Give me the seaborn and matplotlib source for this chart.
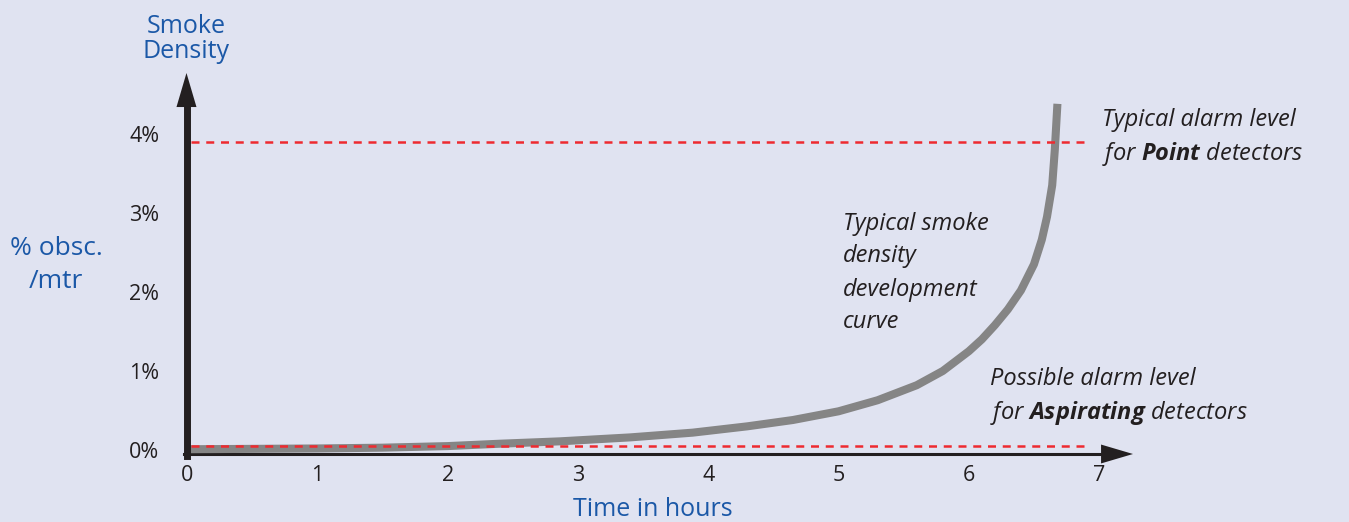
import matplotlib
matplotlib.use("Agg")
import matplotlib.pyplot as plt
import seaborn as sns
import pandas as pd

# smoke density curve (hours, % obsc./m)
time_h = [0, 0.5, 1, 1.5, 2, 2.4, 2.86, 3.4, 3.88, 4.3, 4.65, 5.0, 5.3, 5.6, 5.8, 6.0,
          6.1, 6.2, 6.3, 6.4, 6.5, 6.56, 6.6, 6.64, 6.66, 6.68]
density = [0.01, 0.015, 0.02, 0.03, 0.05, 0.08, 0.11, 0.16, 0.22, 0.3, 0.38, 0.49, 0.63, 0.82, 1.0, 1.25,
           1.4, 1.58, 1.78, 2.02, 2.35, 2.66, 2.95, 3.35, 3.8, 4.38]

point_level = 3.9        # typical alarm level, point detectors
aspirating_level = 0.05  # possible alarm level, aspirating detectors

x_ticks = [0, 1, 2, 3, 4, 5, 6, 7]
y_ticks = [0, 1, 2, 3, 4]
y_labels = ["0%", "1%", "2%", "3%", "4%"]

bg = "#e0e3f1"
ink = "#231f20"
blue = "#1b58a7"
red = "#ee2a30"

sns.set_style("white")
plt.rcParams["font.family"] = ["Open Sans", "DejaVu Sans"]
plt.rcParams["mathtext.fontset"] = "custom"
plt.rcParams["mathtext.bf"] = "Open Sans:italic:bold"

W, H = 1349, 522
fig = plt.figure(figsize=(W / 100, H / 100), dpi=100, facecolor=bg)
ax = fig.add_axes([187 / W, (H - 454) / H, (1133 - 187) / W, (454 - 73) / H])
ax.set_facecolor("none")
ax.set_xlim(0, 7.26)
ax.set_ylim(-0.05, 4.77)

df = pd.DataFrame({"time": time_h, "density": density})
sns.lineplot(data=df, x="time", y="density", ax=ax, color="#858585", lw=5.8,
             solid_capstyle="butt", solid_joinstyle="round", zorder=3)

ax.hlines([point_level, aspirating_level], 0.03, 6.93, colors=red, lw=1.8,
          linestyles=(0, (3.2, 2.7)), zorder=4)

# axes as thick arrows
for s in ["top", "right"]:
    ax.spines[s].set_visible(False)
ax.spines["left"].set_linewidth(5)
ax.spines["left"].set_color(ink)
ax.spines["left"].set_bounds(-0.07, 4.4)
ax.spines["bottom"].set_linewidth(2.2)
ax.spines["bottom"].set_color(ink)
ax.spines["bottom"].set_bounds(-0.02, 7.05)
ax.spines["left"].set_zorder(5)
ax.annotate("", xy=(-0.004, 4.77), xytext=(-0.004, 4.3),
            arrowprops=dict(arrowstyle="-|>,head_length=2.45,head_width=0.72",
                            lw=0, color=ink, shrinkA=0, shrinkB=0),
            annotation_clip=False)
ax.annotate("", xy=(7.26, -0.05), xytext=(6.9, -0.05),
            arrowprops=dict(arrowstyle="-|>,head_length=2.3,head_width=0.68",
                            lw=0, color=ink, shrinkA=0, shrinkB=0),
            annotation_clip=False)

ax.set_xticks(x_ticks)
ax.set_yticks(y_ticks)
ax.set_yticklabels(y_labels)
ax.tick_params(axis="both", length=0, labelsize=15.5, labelcolor=ink)
ax.tick_params(axis="y", pad=20)
ax.tick_params(axis="x", pad=8)
ax.set_xlabel("")
ax.set_ylabel("")
ax.grid(False)

def px(x, y):
    return x / W, 1 - y / H

fig.text(*px(186, 39), "Smoke\nDensity", color=blue, fontsize=18, ha="center", va="center",
         linespacing=1.05)
fig.text(*px(56, 265), "% obsc.\n/mtr", color=blue, fontsize=19, ha="center", va="center",
         linespacing=1.4)
fig.text(*px(653, 509), "Time in hours", color=blue, fontsize=18, ha="center", va="center")

fig.text(*px(1102, 138), "Typical alarm level\nfor$\\;\\bf{Point}$ detectors", color=ink,
         fontsize=17, style="italic", ha="left", va="center", linespacing=1.38)
fig.text(*px(843, 273), "Typical smoke\ndensity\ndevelopment\ncurve", color=ink,
         fontsize=17, style="italic", ha="left", va="center", linespacing=1.5)
fig.text(*px(990, 397), "Possible alarm level\nfor$\\;\\bf{Aspirating}$ detectors", color=ink,
         fontsize=17, style="italic", ha="left", va="center", linespacing=1.38)

fig.savefig("out.png", dpi=100, facecolor=bg)
